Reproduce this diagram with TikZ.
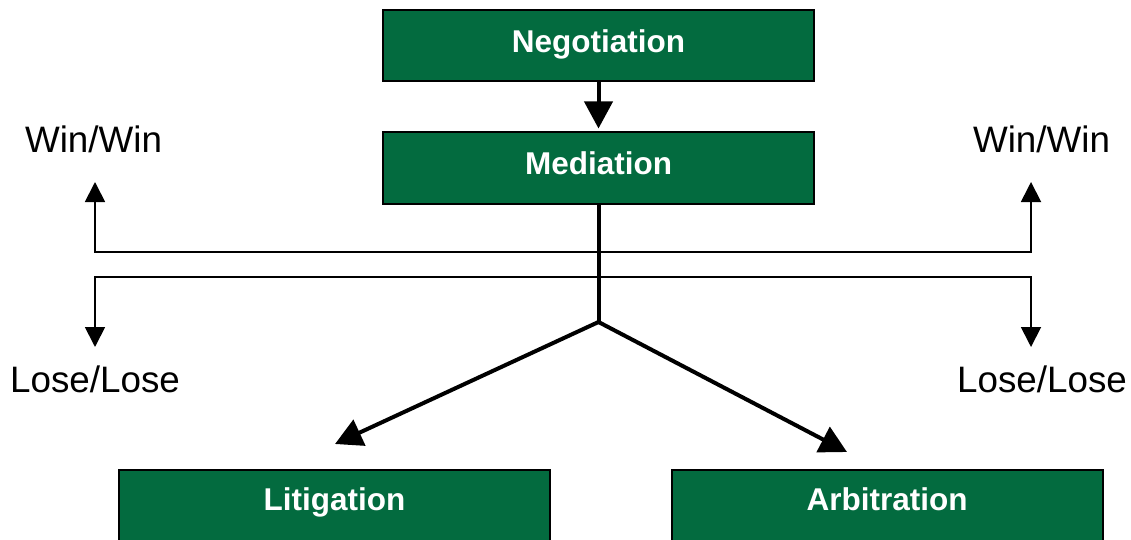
\documentclass[tikz,border=0pt]{standalone}
\usepackage{fontspec}
\setmainfont{Liberation Sans}
\usetikzlibrary{arrows.meta}
\definecolor{boxgreen}{RGB}{3,107,63}
\begin{document}
\begin{tikzpicture}[x=1pt,y=-1pt,
  greenbox/.style={draw=black, line width=2pt, fill=boxgreen, text=white,
    font=\fontsize{31.5}{36}\selectfont\bfseries, inner sep=0pt,
    minimum width=431pt, minimum height=71pt, text height=22pt, text depth=8pt},
  lowbox/.style={greenbox, minimum height=80pt, text height=15pt, text depth=15pt},
  outcome/.style={font=\fontsize{36.8}{42}\selectfont, inner sep=0pt, anchor=base},
  thickline/.style={line width=4pt},
  thickarrow/.style={line width=4pt, -{Triangle[width=28pt,length=27pt]}},
  thinarrow/.style={line width=1.8pt, -{Triangle[width=20pt,length=20pt]}}
]
\useasboundingbox (0,0) rectangle (1131,540);

\node[greenbox] (neg) at (598.5,45.5) {Negotiation};
\node[greenbox] (med) at (598.5,168) {Mediation};
\node[lowbox] (lit) at (334.5,510) {Litigation};
\node[lowbox] (arb) at (887,510) {Arbitration};

\node[outcome] (winL) at (93.5,153) {Win/Win};
\node[outcome] (winR) at (1041.5,153) {Win/Win};
\node[outcome] (loseL) at (95,392) {Lose/Lose};
\node[outcome] (loseR) at (1042,392) {Lose/Lose};

\coordinate (j) at (598.5,322);
\coordinate (upJ) at (598.5,252);
\coordinate (loJ) at (598.5,277);
\coordinate (wlTip) at (95,182);
\coordinate (wrTip) at (1031,182);
\coordinate (llTip) at (95,347);
\coordinate (lrTip) at (1031,347);
\coordinate (litTip) at (335,444);
\coordinate (arbTip) at (847,452);

\draw[thickarrow, shorten >=3pt] (neg.south) -- (med.north);
\draw[thickline] (med.south) -- (j);
\draw[thickarrow] (j) -- (litTip);
\draw[thickarrow] (j) -- (arbTip);

\draw[thinarrow] (upJ) -| (wlTip);
\draw[thinarrow] (upJ) -| (wrTip);
\draw[thinarrow] (loJ) -| (llTip);
\draw[thinarrow] (loJ) -| (lrTip);
\end{tikzpicture}
\end{document}
